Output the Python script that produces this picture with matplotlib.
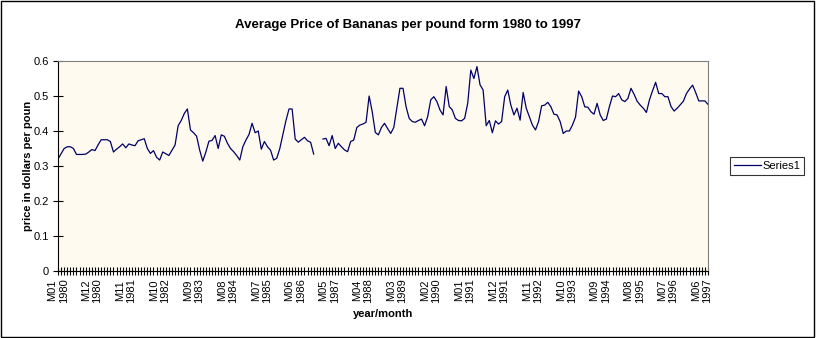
import numpy as np
import matplotlib
matplotlib.use("Agg")
import matplotlib.pyplot as plt
from matplotlib.patches import Rectangle

plt.rcParams['font.family'] = ['Liberation Sans', 'DejaVu Sans']

# monthly average banana price, Jan 1980 .. Aug 1997 (two missing months early 1987)
nan = np.nan
prices = [
    0.320, 0.335, 0.350, 0.355, 0.355, 0.350, 0.333, 0.333, 0.333, 0.334, 0.340, 0.347,  # 1980
    0.344, 0.360, 0.375, 0.375, 0.375, 0.370, 0.340, 0.348, 0.355, 0.363, 0.352, 0.363,  # 1981
    0.360, 0.358, 0.372, 0.375, 0.378, 0.350, 0.336, 0.344, 0.325, 0.317, 0.340, 0.335,  # 1982
    0.330, 0.345, 0.360, 0.415, 0.430, 0.450, 0.463, 0.403, 0.395, 0.385, 0.345, 0.314,  # 1983
    0.340, 0.371, 0.373, 0.387, 0.350, 0.389, 0.385, 0.365, 0.350, 0.341, 0.330, 0.317,  # 1984
    0.355, 0.374, 0.390, 0.422, 0.395, 0.400, 0.348, 0.370, 0.355, 0.345, 0.317, 0.322,  # 1985
    0.350, 0.390, 0.430, 0.463, 0.463, 0.377, 0.368, 0.375, 0.382, 0.372, 0.368, 0.334,  # 1986
    nan,   nan,   0.377, 0.379, 0.358, 0.387, 0.350, 0.365, 0.355, 0.346, 0.341, 0.370,  # 1987
    0.374, 0.410, 0.417, 0.420, 0.425, 0.500, 0.455, 0.396, 0.389, 0.410, 0.422, 0.407,  # 1988
    0.393, 0.410, 0.465, 0.522, 0.522, 0.469, 0.436, 0.427, 0.425, 0.430, 0.434, 0.415,  # 1989
    0.441, 0.489, 0.498, 0.484, 0.460, 0.446, 0.527, 0.470, 0.460, 0.436, 0.430, 0.429,  # 1990
    0.436, 0.479, 0.574, 0.550, 0.584, 0.532, 0.517, 0.415, 0.430, 0.395, 0.429, 0.420,  # 1991
    0.427, 0.498, 0.517, 0.474, 0.446, 0.465, 0.431, 0.510, 0.465, 0.441, 0.417, 0.403,  # 1992
    0.427, 0.472, 0.474, 0.482, 0.469, 0.448, 0.446, 0.427, 0.393, 0.400, 0.400, 0.417,  # 1993
    0.440, 0.514, 0.498, 0.469, 0.468, 0.455, 0.448, 0.479, 0.446, 0.430, 0.434, 0.470,  # 1994
    0.500, 0.498, 0.507, 0.489, 0.484, 0.493, 0.522, 0.505, 0.485, 0.474, 0.465, 0.453,  # 1995
    0.489, 0.515, 0.539, 0.507, 0.507, 0.498, 0.498, 0.470, 0.457, 0.465, 0.475, 0.485,  # 1996
    0.507, 0.520, 0.531, 0.510, 0.486, 0.486, 0.486, 0.476,                              # 1997
]
start_year = 1980
label_every = 11

n = len(prices)
months = np.arange(n)
tick_pos = months[::label_every]
tick_labels = ["M%02d\n%d" % (i % 12 + 1, start_year + i // 12) for i in tick_pos]

fig = plt.figure(figsize=(8.16, 3.38), dpi=100)
fig.patch.set_facecolor("white")
ax = fig.add_axes([58 / 816, 1 - 271 / 338, 650 / 816, 210 / 338])
ax.set_facecolor("#fffaef")

ax.plot(months, prices, color="#000066", lw=0.9, label="Series1")

ax.set_xlim(0, n - 1)
ax.set_ylim(0, 0.6)
ax.set_yticks(np.arange(0, 0.61, 0.1))
ax.set_yticklabels(["0", "0.1", "0.2", "0.3", "0.4", "0.5", "0.6"], fontsize=8)
ax.set_xticks(tick_pos)
ax.set_xticklabels(tick_labels, rotation=90, fontsize=8, va="top", ha="center",
                   linespacing=1.15)
ax.set_xticks(months, minor=True)
ax.tick_params(axis="x", which="both", direction="inout", length=6, width=0.8, pad=2)
ax.tick_params(axis="y", direction="inout", length=7, width=0.8, pad=3)

for s in ["top", "right"]:
    ax.spines[s].set_color("#808080")
for s in ["left", "bottom"]:
    ax.spines[s].set_color("black")

fig.text(0.5, 1 - 25 / 338, "Average Price of Bananas per pound form 1980 to 1997",
         ha="center", va="center", fontsize=9.5, fontweight="bold")
fig.text(28 / 816, 1 - 166 / 338, "price in dollars per poun", rotation=90,
         ha="center", va="center", fontsize=8, fontweight="bold")
fig.text(383 / 816, 1 - 314 / 338, "year/month", ha="center", va="center",
         fontsize=8, fontweight="bold")

leg = fig.legend(loc="center", bbox_to_anchor=(767 / 816, 1 - 166 / 338),
                 fontsize=8, frameon=True, fancybox=False, handlelength=2.4,
                 borderpad=0.35, handletextpad=0.15, borderaxespad=0)
leg.get_frame().set_edgecolor("black")
leg.get_frame().set_linewidth(0.8)

fig.patches.append(Rectangle((0.001, 0.002), 0.997, 0.996, transform=fig.transFigure,
                             fill=False, edgecolor="black", lw=1.0))

fig.savefig("out.png", dpi=100)
